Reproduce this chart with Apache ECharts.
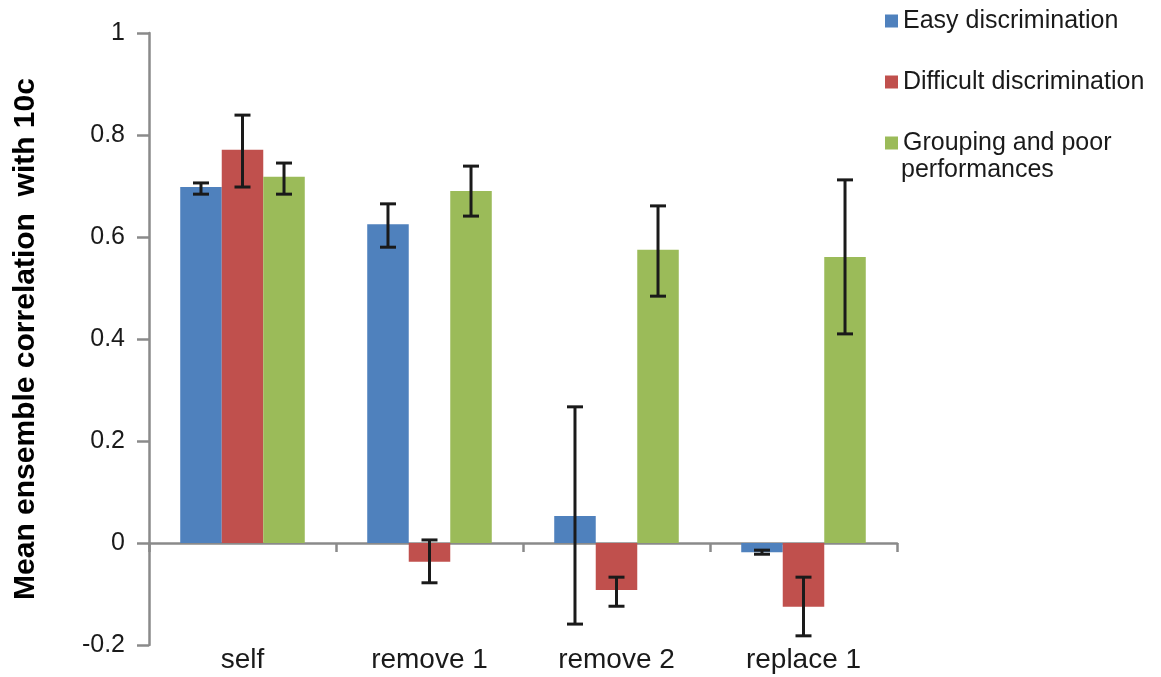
<!DOCTYPE html>
<html>
<head>
<meta charset="utf-8">
<script src="https://cdn.jsdelivr.net/npm/echarts@6/dist/echarts.min.js"></script>
<style>html,body{margin:0;padding:0;background:#fff}#c{width:1161px;height:677px}</style>
</head>
<body>
<div id="c"></div>
<script>
const categories = ['self', 'remove 1', 'remove 2', 'replace 1'];
const seriesNames = ['Easy discrimination', 'Difficult discrimination', 'Grouping and poor performances'];
const easy = [0.698, 0.625, 0.053, -0.018];
const easyLow = [0.684, 0.580, -0.159, -0.022];
const easyHigh = [0.706, 0.665, 0.267, -0.014];
const difficult = [0.771, -0.037, -0.092, -0.125];
const difficultLow = [0.698, -0.078, -0.124, -0.182];
const difficultHigh = [0.839, 0.006, -0.067, -0.067];
const grouping = [0.718, 0.690, 0.575, 0.561];
const groupingLow = [0.684, 0.641, 0.484, 0.410];
const groupingHigh = [0.745, 0.739, 0.661, 0.712];
const yTicks = [-0.2, 0, 0.2, 0.4, 0.6, 0.8, 1];

const FONT = '"Liberation Sans", Arial, sans-serif';
const colors = ['#4F81BD', '#C0504D', '#9BBB59'];
const BAR_CAT_GAP = 0.334;

const values = [easy, difficult, grouping];
const lows = [easyLow, difficultLow, groupingLow];
const highs = [easyHigh, difficultHigh, groupingHigh];

const errData = [];
for (let s = 0; s < 3; s++) {
  for (let i = 0; i < categories.length; i++) {
    errData.push([i, lows[s][i], highs[s][i], s]);
  }
}

const chart = echarts.init(document.getElementById('c'), null, {renderer: 'canvas'});

const barSeries = seriesNames.map((n, s) => ({
  name: n,
  type: 'bar',
  xAxisIndex: 0,
  data: values[s],
  barGap: '0%',
  barCategoryGap: (BAR_CAT_GAP * 100) + '%',
  itemStyle: {color: colors[s]},
  emphasis: {disabled: true},
  z: 2
}));

chart.setOption({
  animation: false,
  backgroundColor: '#fff',
  grid: {left: 149, right: 264, top: 33, bottom: 32, containLabel: false},
  legend: {
    orient: 'vertical',
    left: 880,
    top: 2,
    itemWidth: 13,
    itemHeight: 13,
    itemGap: 33,
    icon: 'rect',
    selectedMode: false,
    textStyle: {fontFamily: FONT, fontSize: 25, color: '#1a1a1a', lineHeight: 28},
    formatter: function (name) {
      return name === seriesNames[2] ? 'Grouping and poor' : name;
    },
    data: seriesNames
  },
  graphic: [{
    type: 'text',
    left: 901,
    top: 156,
    style: {text: 'performances', fontFamily: FONT, fontSize: 25, fill: '#1a1a1a', lineHeight: 28}
  }],
  xAxis: [{
    type: 'category',
    data: categories,
    position: 'bottom',
    axisLine: {show: false, onZero: false},
    axisTick: {show: false},
    axisLabel: {fontFamily: FONT, fontSize: 28, color: '#1a1a1a', margin: 1}
  }, {
    type: 'category',
    data: categories,
    position: 'bottom',
    axisLine: {show: true, onZero: true, lineStyle: {color: '#8a8a8a', width: 2.5}},
    axisTick: {show: true, length: 9, lineStyle: {color: '#8a8a8a', width: 2.5}},
    axisLabel: {show: false},
    splitLine: {show: false}
  }],
  yAxis: {
    type: 'value',
    min: yTicks[0],
    max: yTicks[yTicks.length - 1],
    interval: 0.2,
    name: 'Mean ensemble correlation  with 10c',
    nameLocation: 'middle',
    nameRotate: 90,
    nameGap: 108,
    nameTextStyle: {fontFamily: FONT, fontSize: 30, fontWeight: 'bold', color: '#000'},
    axisLine: {show: true, lineStyle: {color: '#8a8a8a', width: 2.5}},
    axisTick: {show: true, length: 12, lineStyle: {color: '#8a8a8a', width: 2.5}},
    splitLine: {show: false},
    axisLabel: {fontFamily: FONT, fontSize: 25, color: '#1a1a1a', margin: 24}
  },
  series: barSeries.concat([{
    type: 'custom',
    xAxisIndex: 0,
    data: errData,
    z: 10,
    silent: true,
    encode: {x: 0, y: [1, 2]},
    renderItem: function (params, api) {
      const cat = api.value(0);
      const lo = api.coord([cat, api.value(1)]);
      const hi = api.coord([cat, api.value(2)]);
      const s = api.value(3);
      const bw = api.size([1, 0])[0] * (1 - BAR_CAT_GAP) / 3;
      const x = lo[0] + (s - 1) * bw;
      const hw = 8;
      const st = {stroke: '#1a1a1a', lineWidth: 3};
      return {
        type: 'group',
        children: [
          {type: 'line', shape: {x1: x, y1: lo[1], x2: x, y2: hi[1]}, style: st},
          {type: 'line', shape: {x1: x - hw, y1: lo[1], x2: x + hw, y2: lo[1]}, style: st},
          {type: 'line', shape: {x1: x - hw, y1: hi[1], x2: x + hw, y2: hi[1]}, style: st}
        ]
      };
    }
  }])
});
</script>
</body>
</html>
